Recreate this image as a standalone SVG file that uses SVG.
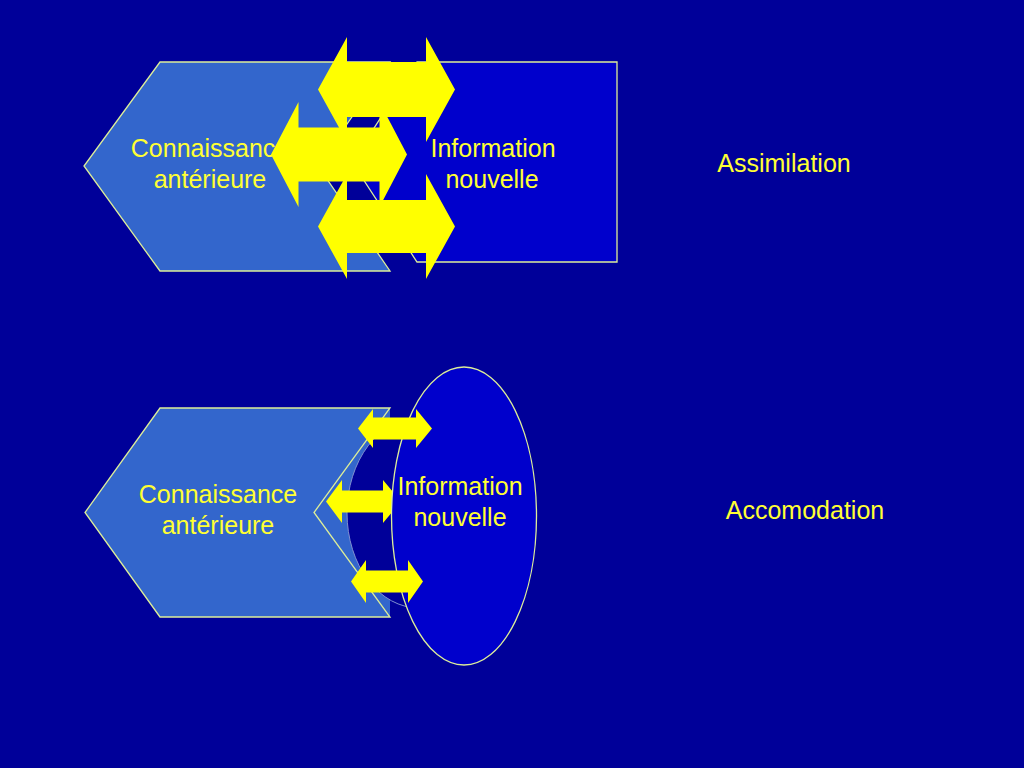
<svg xmlns="http://www.w3.org/2000/svg" width="1024" height="768" viewBox="0 0 1024 768">
  <defs>
    <style>
      .bg { fill: #000099; }
      .know { fill: #3366CC; stroke: #DDEE99; stroke-width: 1.3; stroke-linejoin: miter; }
      .kfill { fill: #3366CC; stroke: none; }
      .kline { fill: none; stroke: #DDEE99; stroke-width: 1.3; }
      .info { fill: #0000CC; stroke: #DDEE99; stroke-width: 1.3; }
      .dark { fill: #000099; stroke: #7F8FD0; stroke-width: 1; }
      .arrow { fill: #FFFF00; stroke: none; }
      .lbl { font-family: "Liberation Sans", Arial, sans-serif; font-size: 25px; fill: #FFFF33; text-anchor: middle; }
    </style>
  </defs>
  <rect class="bg" x="0" y="0" width="1024" height="768"/>

  <!-- Top: Assimilation -->
  <g id="top-knowledge">
    <polygon class="know" points="160,62 390,62 318,166 390,271 160,271 84,166"/>
    <text class="lbl" x="210" y="157">Connaissance</text>
    <text class="lbl" x="210" y="188">antérieure</text>
  </g>
  <g id="top-information">
    <polygon class="info" points="417,62 617,62 617,262 417,262 352,162"/>
    <text class="lbl" x="493" y="157">Information</text>
    <text class="lbl" x="492" y="188">nouvelle</text>
  </g>
  <g id="top-label">
    <text class="lbl" x="784" y="172">Assimilation</text>
  </g>

  <!-- Bottom: Accomodation -->
  <g id="bottom-knowledge">
    <polygon class="kfill" points="160,408 390,408 390,617 160,617 85,512.5"/>
    <polygon class="kline" points="160,408 390,408 314,512.5 390,617 160,617 85,512.5"/>
    <text class="lbl" x="218" y="503">Connaissance</text>
    <text class="lbl" x="218" y="534">antérieure</text>
  </g>
  <g id="bottom-shadow">
    <ellipse class="dark" cx="419" cy="513" rx="72" ry="95"/>
  </g>

  <g id="connectors">
    <g id="top-arrows">
      <polygon class="arrow" points="318,89.5 347,37 347,62 426,62 426,37 455,89.5 426,142 426,117 347,117 347,142"/>
      <polygon class="arrow" points="271,154.5 298.5,102 298.5,127.5 379.5,127.5 379.5,102 407,154.5 379.5,207 379.5,181.5 298.5,181.5 298.5,207"/>
      <polygon class="arrow" points="318,226.5 347,174 347,200 426,200 426,174 455,226.5 426,279 426,253 347,253 347,279"/>
    </g>
    <polygon id="bottom-arrow-mid" class="arrow" points="326,501.5 342,480 342,490.5 383,490.5 383,480 401,501.5 383,523 383,512.5 342,512.5 342,523"/>
  </g>

  <g id="bottom-information">
    <ellipse class="info" cx="464" cy="516" rx="72.5" ry="149"/>
    <text class="lbl" x="460" y="495">Information</text>
    <text class="lbl" x="460" y="526">nouvelle</text>
  </g>

  <g id="connectors-front">
    <polygon class="arrow" points="358,428.5 373,409 373,417.5 416,417.5 416,409 432,428.5 416,448 416,439.5 373,439.5 373,448"/>
    <polygon class="arrow" points="351,581.5 366,560 366,570.5 408,570.5 408,560 423,581.5 408,603 408,592.5 366,592.5 366,603"/>
  </g>

  <g id="bottom-label">
    <text class="lbl" x="805" y="519">Accomodation</text>
  </g>
</svg>
